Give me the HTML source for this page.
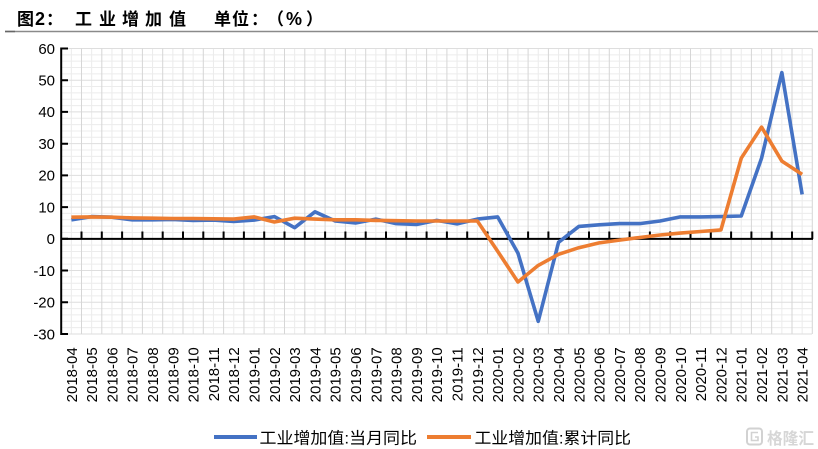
<!DOCTYPE html>
<html><head><meta charset="utf-8">
<style>
html,body{margin:0;padding:0;background:#fff;}
body{width:818px;height:449px;overflow:hidden;}
svg{display:block;}
</style></head>
<body>
<svg width="818" height="449" viewBox="0 0 818 449" xmlns="http://www.w3.org/2000/svg">
<rect width="818" height="449" fill="#fff"/>
<!-- title -->
<g font-family="'Liberation Sans','Noto Sans CJK SC',sans-serif" font-weight="bold" font-size="17" fill="#000">
<text x="17" y="25">图</text>
<text x="35" y="25" font-size="18">2</text>
<text x="46" y="25">：</text>
<text x="75" y="25">工</text>
<text x="99" y="25">业</text>
<text x="122" y="25">增</text>
<text x="145" y="25">加</text>
<text x="169" y="25">值</text>
<text x="214" y="25">单</text>
<text x="232" y="25">位</text>
<text x="251" y="25">：</text>
<text x="267" y="25">（</text>
<text x="286" y="25" font-size="18">%</text>
<text x="306" y="25">）</text>
</g>
<line x1="5" y1="31.5" x2="818" y2="31.5" stroke="#8a8a8a" stroke-width="1.5"/>
<line x1="5" y1="31.5" x2="15" y2="31.5" stroke="#666" stroke-width="1.5"/>

<!-- minor horizontal grid -->
<path fill="none" stroke="#ececec" stroke-width="1" d="M61 54.82H812M61 61.17H812M61 67.51H812M61 73.86H812M61 86.54H812M61 92.89H812M61 99.23H812M61 105.58H812M61 118.26H812M61 124.61H812M61 130.95H812M61 137.3H812M61 149.98H812M61 156.33H812M61 162.67H812M61 169.02H812M61 181.7H812M61 188.05H812M61 194.39H812M61 200.74H812M61 213.42H812M61 219.77H812M61 226.11H812M61 232.46H812M61 245.14H812M61 251.49H812M61 257.83H812M61 264.18H812M61 276.86H812M61 283.21H812M61 289.55H812M61 295.9H812M61 308.58H812M61 314.93H812M61 321.27H812M61 327.62H812"/>
<!-- minor vertical grid -->
<path fill="none" stroke="#ececec" stroke-width="1" d="M71.35 48.5V334M91.65 48.5V334M111.95 48.5V334M132.25 48.5V334M152.55 48.5V334M172.85 48.5V334M193.15 48.5V334M213.45 48.5V334M233.75 48.5V334M254.05 48.5V334M274.35 48.5V334M294.65 48.5V334M314.95 48.5V334M335.25 48.5V334M355.55 48.5V334M375.85 48.5V334M396.15 48.5V334M416.45 48.5V334M436.75 48.5V334M457.05 48.5V334M477.35 48.5V334M497.65 48.5V334M517.95 48.5V334M538.25 48.5V334M558.55 48.5V334M578.85 48.5V334M599.15 48.5V334M619.45 48.5V334M639.75 48.5V334M660.05 48.5V334M680.35 48.5V334M700.65 48.5V334M720.95 48.5V334M741.25 48.5V334M761.55 48.5V334M781.85 48.5V334M802.15 48.5V334"/>
<!-- major horizontal grid -->
<path fill="none" stroke="#dedede" stroke-width="1" d="M61 48.48H812M61 80.2H812M61 111.92H812M61 143.64H812M61 175.36H812M61 207.08H812M61 270.52H812M61 302.24H812M61 333.96H812"/>
<!-- major vertical grid -->
<path fill="none" stroke="#d6d6d6" stroke-width="1" d="M81.5 48.5V334M101.8 48.5V334M122.1 48.5V334M142.4 48.5V334M162.7 48.5V334M183 48.5V334M203.3 48.5V334M223.6 48.5V334M243.9 48.5V334M264.2 48.5V334M284.5 48.5V334M304.8 48.5V334M325.1 48.5V334M345.4 48.5V334M365.7 48.5V334M386 48.5V334M406.3 48.5V334M426.6 48.5V334M446.9 48.5V334M467.2 48.5V334M487.5 48.5V334M507.8 48.5V334M528.1 48.5V334M548.4 48.5V334M568.7 48.5V334M589 48.5V334M609.3 48.5V334M629.6 48.5V334M649.9 48.5V334M670.2 48.5V334M690.5 48.5V334M710.8 48.5V334M731.1 48.5V334M751.4 48.5V334M771.7 48.5V334M792 48.5V334M812.3 48.5V334"/>

<!-- axes -->
<line x1="61.2" y1="47.5" x2="61.2" y2="335" stroke="#000" stroke-width="2"/>
<path fill="none" stroke="#000" stroke-width="2" d="M61 48.5H68M61 80.2H68M61 111.9H68M61 143.7H68M61 175.4H68M61 207.1H68M61 238.8H68M61 270.5H68M61 302.2H68M61 334H68"/>
<line x1="61" y1="238.9" x2="813" y2="238.9" stroke="#000" stroke-width="2"/>
<path fill="none" stroke="#000" stroke-width="2" d="M81.5 231.5V239M101.8 231.5V239M122.1 231.5V239M142.4 231.5V239M162.7 231.5V239M183 231.5V239M203.3 231.5V239M223.6 231.5V239M243.9 231.5V239M264.2 231.5V239M284.5 231.5V239M304.8 231.5V239M325.1 231.5V239M345.4 231.5V239M365.7 231.5V239M386 231.5V239M406.3 231.5V239M426.6 231.5V239M446.9 231.5V239M467.2 231.5V239M487.5 231.5V239M507.8 231.5V239M528.1 231.5V239M548.4 231.5V239M568.7 231.5V239M589 231.5V239M609.3 231.5V239M629.6 231.5V239M649.9 231.5V239M670.2 231.5V239M690.5 231.5V239M710.8 231.5V239M731.1 231.5V239M751.4 231.5V239M771.7 231.5V239M792 231.5V239M812.3 231.5V239"/>

<!-- y labels -->
<g font-family="'Liberation Sans',sans-serif" font-size="15" fill="#000" text-anchor="end">
<text x="55" y="53.8">60</text>
<text x="55" y="85.5">50</text>
<text x="55" y="117.2">40</text>
<text x="55" y="149">30</text>
<text x="55" y="180.7">20</text>
<text x="55" y="212.4">10</text>
<text x="55" y="244.1">0</text>
<text x="55" y="275.8">-10</text>
<text x="55" y="307.5">-20</text>
<text x="55" y="339.3">-30</text>
</g>

<!-- x labels -->
<g font-family="'Liberation Sans',sans-serif" font-size="15" fill="#000" text-anchor="end">
<text transform="translate(76.75 347.3) rotate(-90)">2018-04</text>
<text transform="translate(97.05 347.3) rotate(-90)">2018-05</text>
<text transform="translate(117.35 347.3) rotate(-90)">2018-06</text>
<text transform="translate(137.65 347.3) rotate(-90)">2018-07</text>
<text transform="translate(157.95 347.3) rotate(-90)">2018-08</text>
<text transform="translate(178.25 347.3) rotate(-90)">2018-09</text>
<text transform="translate(198.55 347.3) rotate(-90)">2018-10</text>
<text transform="translate(218.85 347.3) rotate(-90)">2018-11</text>
<text transform="translate(239.15 347.3) rotate(-90)">2018-12</text>
<text transform="translate(259.45 347.3) rotate(-90)">2019-01</text>
<text transform="translate(279.75 347.3) rotate(-90)">2019-02</text>
<text transform="translate(300.05 347.3) rotate(-90)">2019-03</text>
<text transform="translate(320.35 347.3) rotate(-90)">2019-04</text>
<text transform="translate(340.65 347.3) rotate(-90)">2019-05</text>
<text transform="translate(360.95 347.3) rotate(-90)">2019-06</text>
<text transform="translate(381.25 347.3) rotate(-90)">2019-07</text>
<text transform="translate(401.55 347.3) rotate(-90)">2019-08</text>
<text transform="translate(421.85 347.3) rotate(-90)">2019-09</text>
<text transform="translate(442.15 347.3) rotate(-90)">2019-10</text>
<text transform="translate(462.45 347.3) rotate(-90)">2019-11</text>
<text transform="translate(482.75 347.3) rotate(-90)">2019-12</text>
<text transform="translate(503.05 347.3) rotate(-90)">2020-01</text>
<text transform="translate(523.35 347.3) rotate(-90)">2020-02</text>
<text transform="translate(543.65 347.3) rotate(-90)">2020-03</text>
<text transform="translate(563.95 347.3) rotate(-90)">2020-04</text>
<text transform="translate(584.25 347.3) rotate(-90)">2020-05</text>
<text transform="translate(604.55 347.3) rotate(-90)">2020-06</text>
<text transform="translate(624.85 347.3) rotate(-90)">2020-07</text>
<text transform="translate(645.15 347.3) rotate(-90)">2020-08</text>
<text transform="translate(665.45 347.3) rotate(-90)">2020-09</text>
<text transform="translate(685.75 347.3) rotate(-90)">2020-10</text>
<text transform="translate(706.05 347.3) rotate(-90)">2020-11</text>
<text transform="translate(726.35 347.3) rotate(-90)">2020-12</text>
<text transform="translate(746.65 347.3) rotate(-90)">2021-01</text>
<text transform="translate(766.95 347.3) rotate(-90)">2021-02</text>
<text transform="translate(787.25 347.3) rotate(-90)">2021-03</text>
<text transform="translate(807.55 347.3) rotate(-90)">2021-04</text>
</g>

<!-- series -->
<polyline fill="none" stroke="#4472C4" stroke-width="3.6" stroke-linejoin="round" stroke-linecap="butt" points="71.35,219.8 91.65,216.6 111.95,217.2 132.25,219.8 152.55,219.8 172.85,219.5 193.15,220.4 213.45,220.1 233.75,221.4 254.05,220.1 274.35,216.6 294.65,227.7 314.95,211.8 335.25,221 355.55,223 375.85,219.1 396.15,223.6 416.45,224.5 436.75,220.4 457.05,223.9 477.35,219.1 497.65,216.9 517.95,253.1 538.25,321.3 558.55,242.3 578.85,226.4 599.15,224.8 619.45,223.6 639.75,223.6 660.05,221 680.35,216.9 700.65,216.9 720.95,216.6 741.25,216 761.55,158.2 781.85,72.6 802.15,194.4"/>
<polyline fill="none" stroke="#ED7D31" stroke-width="3.6" stroke-linejoin="round" stroke-linecap="butt" points="71.35,217.2 91.65,216.9 111.95,217.2 132.25,217.9 152.55,218.2 172.85,218.5 193.15,218.5 213.45,218.8 233.75,219.1 254.05,216.9 274.35,222 294.65,218.2 314.95,219.1 335.25,219.8 355.55,219.8 375.85,220.4 396.15,220.7 416.45,221 436.75,221 457.05,221 477.35,221 497.65,251.2 517.95,282 538.25,265.4 558.55,254.3 578.85,247.7 599.15,242.9 619.45,240.1 639.75,237.5 660.05,235 680.35,233.1 700.65,231.5 720.95,229.9 741.25,158.2 761.55,127.1 781.85,161.1 802.15,174.4"/>

<!-- legend -->
<line x1="214" y1="437" x2="257" y2="437" stroke="#4472C4" stroke-width="4"/>
<text x="259.5" y="443.5" font-family="'Liberation Sans','Noto Sans CJK SC',sans-serif" font-size="16" fill="#000" textLength="157.5" lengthAdjust="spacingAndGlyphs">工业增加值:当月同比</text>
<line x1="427" y1="437" x2="471" y2="437" stroke="#ED7D31" stroke-width="4"/>
<text x="474.5" y="443.5" font-family="'Liberation Sans','Noto Sans CJK SC',sans-serif" font-size="16" fill="#000" textLength="156.5" lengthAdjust="spacingAndGlyphs">工业增加值:累计同比</text>

<!-- watermark -->
<rect x="747" y="428.5" width="15" height="16" rx="3" fill="none" stroke="#d2d2d2" stroke-width="2"/>
<path d="M758 432.5H751.5V440.5H758V437H755" fill="none" stroke="#d2d2d2" stroke-width="1.6"/>
<text x="767" y="444" font-family="'Noto Sans CJK SC',sans-serif" font-weight="bold" font-size="16" fill="#d6d6d6" textLength="47" lengthAdjust="spacingAndGlyphs">格隆汇</text>
</svg>
</body></html>
